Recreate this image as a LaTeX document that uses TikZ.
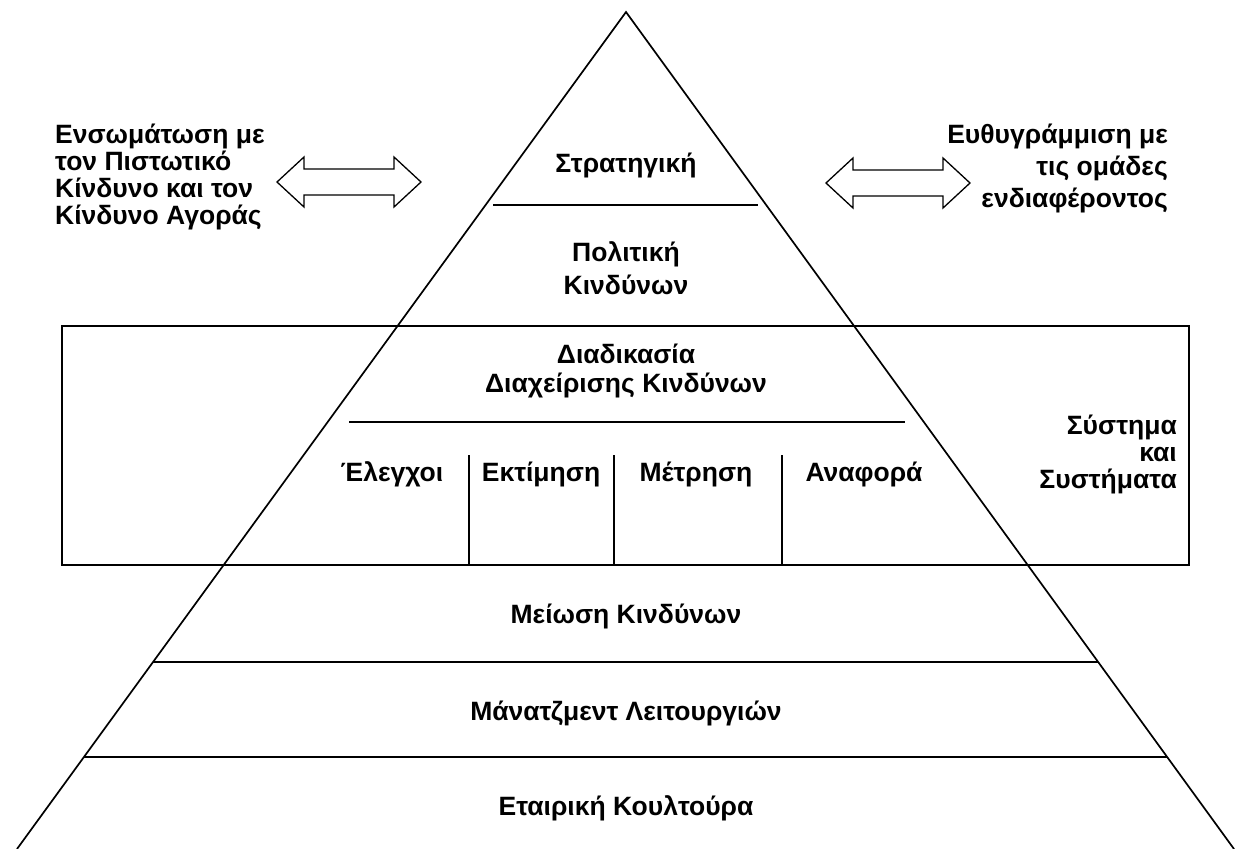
\documentclass[tikz,border=0pt]{standalone}
\usepackage{fontspec}
\setmainfont{Liberation Sans}
\usetikzlibrary{calc}

\begin{document}
\begin{tikzpicture}[x=1pt,y=-1pt,
  edge/.style={line width=1.7pt, line cap=round},
  rule/.style={line width=1.7pt},
  lbl/.style={font=\fontsize{26.5}{27}\selectfont\bfseries, anchor=base, inner sep=0pt},
  lbll/.style={lbl, anchor=base west},
  lblr/.style={lbl, anchor=base east},
  pics/dblarrow/.style={code={
    \draw[line width=1.3pt, fill=white, line join=miter]
      (-72,0) -- (-45,-25) -- (-45,-13) -- (45,-13) -- (45,-25) -- (72,0)
      -- (45,25) -- (45,13) -- (-45,13) -- (-45,25) -- cycle;
  }}
]
\useasboundingbox (0,0) rectangle (1235,849);
\fill[white] (0,0) rectangle (1235,849);

% pyramid outline
\coordinate (apex) at (626,12);
\coordinate (bl) at (17,849);
\coordinate (br) at (1234,849);
\draw[edge] (bl) -- (apex) -- (br);

% horizontal dividers of the pyramid
\coordinate (s1a) at (493,205);  \coordinate (s1b) at (758,205);
\coordinate (s2a) at (349,422);  \coordinate (s2b) at (905,422);
\coordinate (s3a) at (153,662);  \coordinate (s3b) at (1098,662);
\coordinate (s4a) at (84,757);   \coordinate (s4b) at (1167,757);
\draw[rule] (s1a) -- (s1b);
\draw[rule] (s2a) -- (s2b);
\draw[rule] (s3a) -- (s3b);
\draw[rule] (s4a) -- (s4b);

% system frame
\coordinate (boxnw) at (62,326);
\coordinate (boxse) at (1189,565);
\draw[rule] (boxnw) rectangle (boxse);

% sub-columns of the process band
\coordinate (c0) at (301,565);
\coordinate (c4) at (973,565);
\draw[rule] (c0) -- (c4);
\coordinate (v1t) at (469,455); \coordinate (v1b) at (469,565);
\coordinate (v2t) at (614,455); \coordinate (v2b) at (614,565);
\coordinate (v3t) at (782,455); \coordinate (v3b) at (782,565);
\draw[rule] (v1t) -- (v1b);
\draw[rule] (v2t) -- (v2b);
\draw[rule] (v3t) -- (v3b);

% pyramid labels
\node[lbl] (strat) at (626,172) {Στρατηγική};
\node[lbl] (pol1) at (626,261) {Πολιτική};
\node[lbl] (pol2) at (626,294) {Κινδύνων};
\node[lbl] (proc1) at (626,363) {Διαδικασία};
\node[lbl] (proc2) at (626,392) {Διαχείρισης Κινδύνων};
\node[lbl] (col1) at (392,481) {Έλεγχοι};
\node[lbl] (col2) at (541,481) {Εκτίμηση};
\node[lbl] (col3) at (696,481) {Μέτρηση};
\node[lbl] (col4) at (864,481) {Αναφορά};
\node[lbl] (mit) at (626,623) {Μείωση Κινδύνων};
\node[lbl] (ops) at (626,720) {Μάνατζμεντ Λειτουργιών};
\node[lbl] (cult) at (626,815) {Εταιρική Κουλτούρα};

% system label
\node[lblr] (sys1) at (1177,434) {Σύστημα};
\node[lblr] (sys2) at (1177,461) {και};
\node[lblr] (sys3) at (1177,488) {Συστήματα};

% side notes
\node[lbll] (l1) at (55,143) {Ενσωμάτωση με};
\node[lbll] (l2) at (55,170) {τον Πιστωτικό};
\node[lbll] (l3) at (55,197) {Κίνδυνο και τον};
\node[lbll] (l4) at (55,224) {Κίνδυνο Αγοράς};

\node[lblr] (r1) at (1168,143) {Ευθυγράμμιση με};
\node[lblr] (r2) at (1168,175) {τις ομάδες};
\node[lblr] (r3) at (1168,207) {ενδιαφέροντος};

% double-headed arrows
\pic (larrow) at (349,182) {dblarrow};
\pic (rarrow) at (898,183) {dblarrow};
\end{tikzpicture}
\end{document}
